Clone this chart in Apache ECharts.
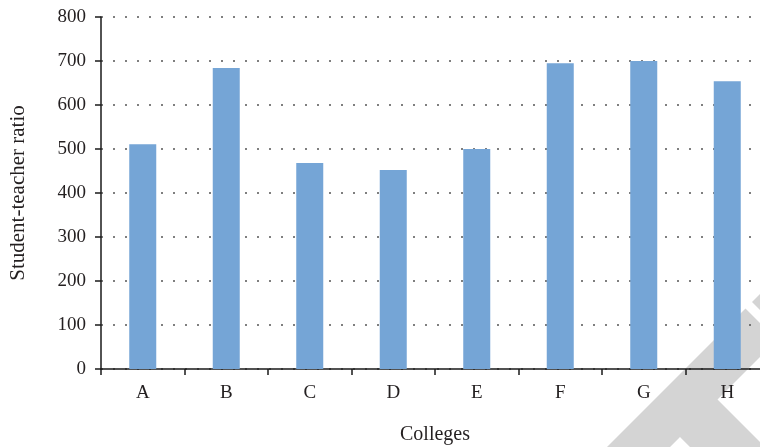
<!DOCTYPE html>
<html>
<head>
<meta charset="utf-8">
<script src="https://cdn.jsdelivr.net/npm/echarts@6/dist/echarts.min.js"></script>
<style>
  html, body { margin: 0; padding: 0; background: #fff; }
  #chart { width: 760px; height: 447px; }
</style>
</head>
<body>
<div id="chart"></div>
<script>
// Student-teacher ratio by college
const colleges = ['A', 'B', 'C', 'D', 'E', 'F', 'G', 'H'];
const ratios = [511, 684, 468, 452, 500, 695, 700, 654];
const yTicks = { min: 0, max: 800, step: 100 };

const textColor = '#231f20';
const serif = '"Liberation Serif", "Times New Roman", serif';

const chart = echarts.init(document.getElementById('chart'), null, { renderer: 'canvas' });

chart.setOption({
  animation: false,
  backgroundColor: '#ffffff',
  grid: { left: 101, top: 17, bottom: 78, width: 668, containLabel: false, outerBoundsMode: 'none' },
  // light grey publisher mark in the lower-right corner
  graphic: [
    {
      type: 'polygon', z: 0, silent: true,
      shape: { points: [[582, 472], [745.5, 308.5], [777, 340], [717.5, 399.5], [790, 472], [715, 472], [680, 437], [645, 472]] },
      style: { fill: '#d4d4d4' }
    },
    {
      type: 'polygon', z: 0, silent: true,
      shape: { points: [[752, 302], [783.5, 333.5], [840, 277], [808, 246]] },
      style: { fill: '#d4d4d4' }
    }
  ],
  xAxis: {
    type: 'category',
    data: colleges,
    name: 'Colleges',
    nameLocation: 'middle',
    nameGap: 56,
    nameTextStyle: { fontFamily: serif, fontSize: 20, color: textColor },
    axisLine: { lineStyle: { color: '#1a1a1a', width: 1.5 } },
    axisTick: { show: true, length: 6, lineStyle: { color: '#1a1a1a', width: 1.5 } },
    axisLabel: { fontFamily: serif, fontSize: 19, color: textColor, margin: 15 },
    splitLine: { show: false }
  },
  yAxis: {
    type: 'value',
    min: yTicks.min,
    max: yTicks.max,
    interval: yTicks.step,
    name: 'Student-teacher ratio',
    nameLocation: 'middle',
    nameGap: 72,
    nameTextStyle: { fontFamily: serif, fontSize: 21, color: textColor },
    axisLine: { show: true, lineStyle: { color: '#1a1a1a', width: 1.5 } },
    axisTick: { show: true, length: 6, lineStyle: { color: '#1a1a1a', width: 1.5 } },
    axisLabel: { fontFamily: serif, fontSize: 19, color: textColor, margin: 15 },
    splitLine: { show: true, lineStyle: { color: '#555555', width: 1.5, type: [2, 10] } }
  },
  series: [{
    type: 'bar',
    data: ratios,
    barWidth: 27,
    itemStyle: { color: '#75a5d6' },
    z: 2
  }]
});
</script>
</body>
</html>
